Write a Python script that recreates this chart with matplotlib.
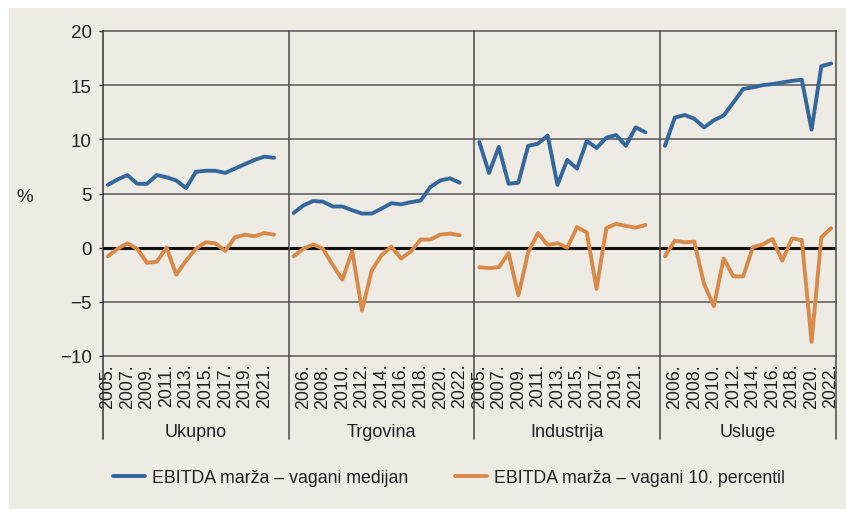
import matplotlib
matplotlib.use('Agg')
import matplotlib.pyplot as plt
from matplotlib.lines import Line2D
from matplotlib.patches import Rectangle

# ---------------- data ----------------
years = list(range(2005, 2023))
groups = ['Ukupno', 'Trgovina', 'Industrija', 'Usluge']

ukupno_median = [5.8, 6.3, 6.7, 5.9, 5.9, 6.7, 6.5, 6.2, 5.5, 7.0, 7.1, 7.1, 6.9, 7.3, 7.7, 8.1, 8.4, 8.3]
ukupno_p10 = [-0.8, -0.1, 0.4, -0.1, -1.4, -1.3, 0.0, -2.5, -1.2, -0.1, 0.5, 0.4, -0.3, 0.95, 1.2, 1.05, 1.35, 1.2]

trgovina_median = [3.2, 3.9, 4.3, 4.25, 3.8, 3.8, 3.45, 3.15, 3.15, 3.6, 4.1, 4.0, 4.2, 4.35, 5.6, 6.2, 6.4, 6.0]
trgovina_p10 = [-0.8, -0.1, 0.3, -0.1, -1.6, -2.95, -0.3, -5.8, -2.1, -0.7, 0.1, -1.0, -0.35, 0.75, 0.75, 1.2, 1.3, 1.15]

industrija_median = [9.75, 6.9, 9.3, 5.9, 6.0, 9.4, 9.6, 10.35, 5.8, 8.1, 7.3, 9.85, 9.2, 10.15, 10.4, 9.4, 11.1, 10.65]
industrija_p10 = [-1.8, -1.9, -1.8, -0.5, -4.4, -0.45, 1.35, 0.25, 0.4, 0.0, 1.9, 1.4, -3.8, 1.8, 2.2, 2.0, 1.85, 2.1]

usluge_median = [9.4, 12.0, 12.25, 11.9, 11.1, 11.75, 12.2, 13.4, 14.65, 14.8, 15.0, 15.1, 15.25, 15.4, 15.5, 10.9, 16.75, 17.0]
usluge_p10 = [-0.8, 0.65, 0.5, 0.55, -3.35, -5.4, -1.0, -2.65, -2.65, 0.05, 0.3, 0.8, -1.2, 0.85, 0.7, -8.7, 0.95, 1.8]

medians = [ukupno_median, trgovina_median, industrija_median, usluge_median]
p10s = [ukupno_p10, trgovina_p10, industrija_p10, usluge_p10]

legend_labels = ['EBITDA marža – vagani medijan', 'EBITDA marža – vagani 10. percentil']
y_ticks = [-10, -5, 0, 5, 10, 15, 20]

# ---------------- style ----------------
BG = '#EEEBE4'
BLUE = '#34679B'
ORANGE = '#D98A48'
TXT = '#231F20'
GRID = '#555555'
FONT = ['Liberation Sans', 'DejaVu Sans']

W, H = 846, 510
fig = plt.figure(figsize=(W / 100, H / 100), dpi=100)
fig.patch.set_facecolor('white')
fig.add_artist(Rectangle((9 / W, 0), 1 - 9 / W, 1 - 9 / H, transform=fig.transFigure,
                         facecolor=BG, edgecolor='none', zorder=-10))

left, right, top, bottom = 103, 836, 32, 357
ax = fig.add_axes([left / W, 1 - bottom / H, (right - left) / W, (bottom - top) / H])
ax.set_facecolor(BG)

slot = 19  # 18 years + 1 blank separator per group
n_slots = slot * 3 + len(years)
group_starts = [g * slot for g in range(len(groups))]

for g, start in enumerate(group_starts):
    xs = [start + i for i in range(len(years))]
    ax.plot(xs, medians[g], color=BLUE, lw=2.8, solid_capstyle='round', solid_joinstyle='round', zorder=5)
    ax.plot(xs, p10s[g], color=ORANGE, lw=2.8, solid_capstyle='round', solid_joinstyle='round', zorder=5)

ax.set_xlim(-0.5, n_slots - 0.5)
ax.set_ylim(-10, 20)

# horizontal grid
for yv in y_ticks:
    if yv == 0:
        ax.axhline(yv, color='#111111', lw=2.2, zorder=3)
    else:
        ax.axhline(yv, color=GRID, lw=1.1, zorder=2, clip_on=False)

# vertical dividers (extend down through label area)
ext = -(440 - bottom) / (bottom - top)
xt = ax.get_xaxis_transform()
div_x = [-0.5] + [s + slot - 0.5 for s in group_starts[:-1]] + [n_slots - 0.5]
for i, xv in enumerate(div_x):
    col = '#333333' if i == 0 else '#4a4a4a'
    ax.plot([xv, xv], [1, ext], transform=xt, color=col, lw=1.1, clip_on=False, zorder=4)

for s in ax.spines.values():
    s.set_visible(False)

# y ticks
ax.set_yticks(y_ticks)
ax.set_yticklabels([str(v).replace('-', '\u2212') for v in y_ticks], family=FONT, fontsize=13.5, color=TXT)
ax.tick_params(axis='y', length=3, width=1, color='#333333', pad=5)

# x ticks: every other slot labelled
tick_pos, tick_lab = [], []
for g, start in enumerate(group_starts):
    for i, yr in enumerate(years):
        idx = start + i
        if idx % 2 == 0:
            tick_pos.append(idx)
            tick_lab.append(f'{yr}.')
ax.set_xticks(tick_pos)
ax.set_xticklabels(tick_lab, rotation=90, family=FONT, fontsize=12.8, color=TXT, va='top', ha='center')
ax.tick_params(axis='x', length=0, pad=5)

# group names
for g, start in enumerate(group_starts):
    x0 = div_x[g]
    x1 = div_x[g + 1]
    ax.text((x0 + x1) / 2, -(433 - bottom) / (bottom - top), groups[g], transform=xt,
            ha='center', va='center', family=FONT, fontsize=13, color=TXT)

fig.text(25 / W, 1 - 198 / H, '%', ha='center', va='center', family=FONT, fontsize=13.5, color=TXT)

handles = [Line2D([], [], color=BLUE, lw=2.8, solid_capstyle='round'),
           Line2D([], [], color=ORANGE, lw=2.8, solid_capstyle='round')]
leg = fig.legend(handles, legend_labels, loc='center', bbox_to_anchor=(449 / W, 1 - 479 / H), ncol=2,
                 frameon=False, handlelength=1.8, handletextpad=0.4, columnspacing=2.6,
                 prop={'family': FONT, 'size': 12.8})
for t in leg.get_texts():
    t.set_color(TXT)

fig.savefig('out.png', dpi=100, facecolor=fig.get_facecolor())
